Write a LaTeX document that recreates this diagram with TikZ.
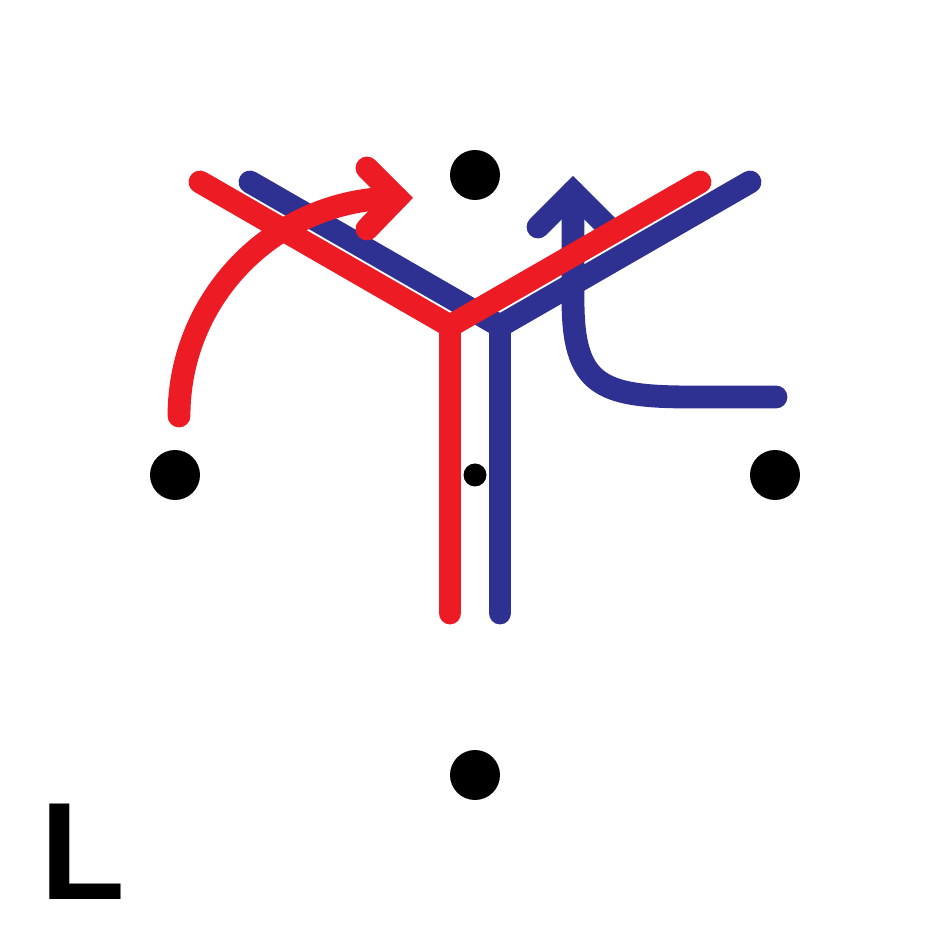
\documentclass[tikz,border=0pt]{standalone}
\usepackage{fontspec}
\newfontfamily\labfont{Liberation Sans}
\definecolor{yred}{RGB}{237,28,36}
\definecolor{yblue}{RGB}{46,49,146}
\tikzset{
    lab/.style={
        font=\labfont\bfseries\fontsize{79}{90}\selectfont
    }
}

\begin{document}
\begin{tikzpicture}[x=0.02cm,y=0.02cm, line cap=round, line join=round]

\tikzset{
  redl/.style={draw=yred, line width=13pt},
  bluel/.style={draw=yblue, line width=13pt},
  dot/.style={circle, fill=black, minimum size=1cm, inner sep=0pt},
  sdot/.style={circle, fill=black, minimum size=0.46cm, inner sep=0pt},
}

\useasboundingbox (0,0) rectangle (950,950);

% blue Y
\coordinate (BA) at (250,768);
\coordinate (BJ) at (500,624);
\coordinate (BB) at (750,768);
\coordinate (BS) at (500,337);

% red Y
\coordinate (RA) at (200,768);
\coordinate (RJ) at (450,624);
\coordinate (RB) at (700,768);
\coordinate (RS) at (450,337);

% blue arrow
\coordinate (BE) at (776,553);
\coordinate (BK) at (690,553);
\coordinate (BU) at (573,650);
\coordinate (BT) at (573,758);
\coordinate (BH1) at (538,723);
\coordinate (BH2) at (608,723);

% red arrow
\coordinate (RC) at (179,534);
\coordinate (RT) at (397,752);
\coordinate (RH1) at (367,782);
\coordinate (RH2) at (367,721);

% blue Y and arrow
\draw[bluel, line join=miter] (BA) -- (BJ) -- (BB);
\draw[bluel] (BJ) -- (BS);
\draw[bluel] (BE) -- (BK) .. controls (600,553) and (573,565) .. (BU) -- (BT);
\draw[bluel, line join=miter] (BH1) -- (BT) -- (BH2);

% red Y and arrow
\draw[redl, line join=miter] (RA) -- (RJ) -- (RB);
\draw[redl] (RJ) -- (RS);
\draw[redl] (RC) arc[start angle=180, end angle=90, radius=218];
\draw[redl, line join=miter] (RH1) -- (RT) -- (RH2);

% dots
\node[dot] (top) at (475,775) {};
\node[dot] (left) at (175,475) {};
\node[dot] (right) at (775,475) {};
\node[dot] (bottom) at (475,175) {};
\node[sdot] (centre) at (475,475) {};

% label
\node[lab, anchor=base west, inner sep=0pt] (tag) at (40,51) {L};

\end{tikzpicture}
\end{document}
